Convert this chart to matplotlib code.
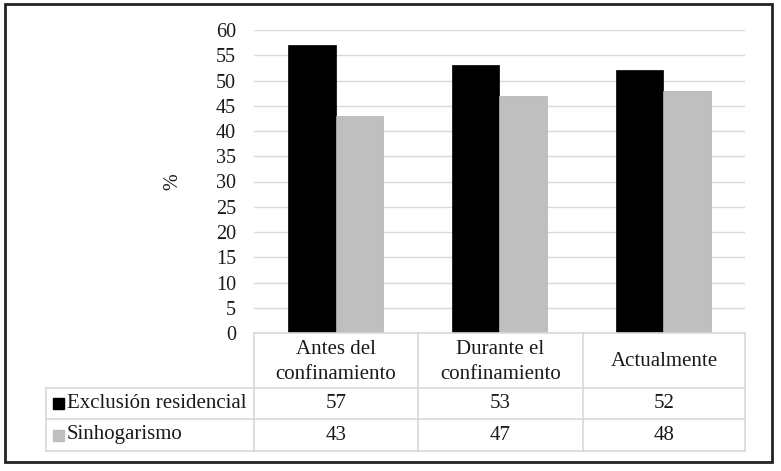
import matplotlib
matplotlib.use("Agg")
import matplotlib.pyplot as plt
from matplotlib.patches import Rectangle
import numpy as np

plt.rcParams['font.family'] = ['Liberation Serif', 'DejaVu Serif']

categories = ['Antes del\nconfinamiento', 'Durante el\nconfinamiento', 'Actualmente']
series_names = ['Exclusión residencial', 'Sinhogarismo']
exclusion = [57, 53, 52]
sinhogar = [43, 47, 48]
yticks = list(range(0, 61, 5))

colors = ['#000000', '#bfbfbf']
grid_c = '#d9d9d9'
txt_c = '#1a1a1a'
fs = 15

W, H = 781, 471
fig = plt.figure(figsize=(W / 100, H / 100), dpi=100)

# pixel helpers (origin top-left)
def fx(px):
    return px / W

def fy(py):
    return 1 - py / H

# outer frame
fig.patches.append(Rectangle((fx(5), fy(462)), fx(772) - fx(5), fy(4) - fy(462),
                             transform=fig.transFigure, fill=False,
                             edgecolor='#222222', linewidth=2))

ax_left, ax_right = 254, 745
ax_top, ax_bot = 30, 333
ax = fig.add_axes([fx(ax_left), fy(ax_bot), fx(ax_right) - fx(ax_left), fy(ax_top) - fy(ax_bot)])

x = np.arange(len(categories))
bw = 0.29
ax.bar(x - bw / 2, exclusion, bw, color=colors[0], edgecolor='#000000', linewidth=0.5, zorder=3)
ax.bar(x + bw / 2, sinhogar, bw, color=colors[1], edgecolor='#b0b0b0', linewidth=0.5, zorder=3)

ax.set_xlim(-0.5, len(categories) - 0.5)
ax.set_ylim(0, 60)
ax.set_yticks(yticks)
ax.yaxis.grid(True, color=grid_c, linewidth=1)
ax.set_axisbelow(True)
for s in ax.spines.values():
    s.set_visible(False)
ax.tick_params(axis='y', length=0, pad=13, labelsize=14.5, labelcolor=txt_c)
ax.set_xticks([])
ax.set_ylabel('%', fontsize=14.5, color=txt_c)
ax.yaxis.set_label_coords(-0.145, 0.5)

# data table
col_x = [46, 254, 418, 583, 745]
row_y = [333, 388, 419, 451]
lc = grid_c
lw = 1.2

def hline(y, x0, x1):
    fig.add_artist(plt.Line2D([fx(x0), fx(x1)], [fy(y), fy(y)], color=lc, linewidth=lw,
                              transform=fig.transFigure))

def vline(xp, y0, y1):
    fig.add_artist(plt.Line2D([fx(xp), fx(xp)], [fy(y0), fy(y1)], color=lc, linewidth=lw,
                              transform=fig.transFigure))

hline(row_y[0], col_x[1], col_x[-1])
for y in row_y[1:]:
    hline(y, col_x[0], col_x[-1])
vline(col_x[0], row_y[1], row_y[-1])
for xp in col_x[1:]:
    vline(xp, row_y[0], row_y[-1])

# header
for i, cat in enumerate(categories):
    cx = (col_x[i + 1] + col_x[i + 2]) / 2
    cy = (row_y[0] + row_y[1]) / 2 + 1.5
    fig.text(fx(cx), fy(cy), cat, ha='center', va='center', fontsize=fs,
             color=txt_c, linespacing=1.4)

# rows
for r, (name, vals) in enumerate(zip(series_names, [exclusion, sinhogar])):
    cy = (row_y[r + 1] + row_y[r + 2]) / 2
    fig.patches.append(Rectangle((fx(53), fy(cy + 5.5)), fx(11), 11 / H,
                                 transform=fig.transFigure, color=colors[r]))
    fig.text(fx(67), fy(cy), name, ha='left', va='center', fontsize=fs, color=txt_c)
    for i, v in enumerate(vals):
        cx = (col_x[i + 1] + col_x[i + 2]) / 2
        fig.text(fx(cx), fy(cy), str(v), ha='center', va='center', fontsize=fs, color=txt_c)

fig.savefig('out.png', dpi=100)
